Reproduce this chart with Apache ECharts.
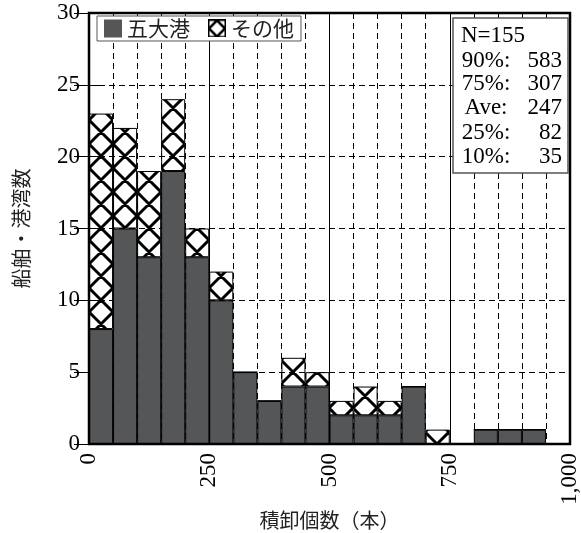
<!DOCTYPE html>
<html>
<head>
<meta charset="utf-8">
<script src="https://cdn.jsdelivr.net/npm/echarts/dist/echarts.min.js"></script>
<style>
  html, body { margin: 0; padding: 0; background: #fff; }
  #chart { width: 581px; height: 533px; }
</style>
</head>
<body>
<div id="chart"></div>
<script>
// Histogram bins: lower edge of each 50-box class
const binStarts = [0, 50, 100, 150, 200, 250, 300, 350, 400, 450,
                   500, 550, 600, 650, 700, 750, 800, 850, 900, 950];
// Counts per bin
const majorPorts = [8, 15, 13, 19, 13, 10, 5, 3, 4, 4, 2, 2, 2, 4, 0, 0, 1, 1, 1, 0];
const otherPorts = [15, 7, 6, 5, 2, 2, 0, 0, 2, 1, 1, 2, 1, 0, 1, 0, 0, 0, 0, 0];
const seriesNames = ['五大港', 'その他'];
// Axis ranges
const xRange = [0, 1000];
const xStep = 250;
const yRange = [0, 30];
const yStep = 5;
// Summary statistics
const sampleCount = 155;
const statLabels = ['90%:', '75%:', 'Ave:', '25%:', '10%:'];
const statValues = [583, 307, 247, 82, 35];

const SERIF = '"Liberation Serif", "DejaVu Serif", serif';
const JP = '"Noto Sans CJK JP", "Noto Sans", sans-serif';

// Cross-hatch tile (diagonal lattice, 24px period)
function hatchTile() {
  const c = document.createElement('canvas');
  c.width = 24; c.height = 24;
  const g = c.getContext('2d');
  g.strokeStyle = '#000';
  g.lineWidth = 3;
  const ox = 17;
  g.beginPath();
  for (let k = -3; k <= 3; k++) {
    const b = ox + 24 * k;
    g.moveTo(b - 48, -48); g.lineTo(b + 48, 48);
    g.moveTo(b + 48, -48); g.lineTo(b - 48, 48);
  }
  g.stroke();
  return c;
}

// Legend swatch: boxed diamond
function diamondIcon() {
  const s = 36;
  const c = document.createElement('canvas');
  c.width = s; c.height = s;
  const g = c.getContext('2d');
  g.fillStyle = '#fff';
  g.fillRect(0, 0, s, s);
  g.strokeStyle = '#000';
  g.lineWidth = 5;
  g.beginPath();
  g.moveTo(s / 2, 2); g.lineTo(s - 2, s / 2); g.lineTo(s / 2, s - 2); g.lineTo(2, s / 2); g.closePath();
  g.stroke();
  g.lineWidth = 3;
  g.strokeRect(1.5, 1.5, s - 3, s - 3);
  return c.toDataURL();
}

const binLabels = binStarts.map(v => v + '-' + (v + 50));
const hatch = { image: hatchTile(), repeat: 'repeat' };
const DARK = '#555658';

const gridBox = { left: 89, top: 13, right: 11, bottom: 89 };
const plotW = 581 - gridBox.left - gridBox.right;
const plotH = 533 - gridBox.top - gridBox.bottom;

// Stats panel rows
const panel = { x: 453, y: 18, w: 115, h: 155 };
const rowYs = [36, 61, 84, 108, 133, 157];
const statFont = '23px ' + SERIF;
const statGraphics = [
  { type: 'rect', shape: { x: panel.x, y: panel.y, width: panel.w, height: panel.h },
    style: { fill: '#fff', stroke: '#555', lineWidth: 1.5 }, z: 20 },
  { type: 'text', x: 461, y: rowYs[0], z: 21,
    style: { text: 'N=' + sampleCount, font: statFont, fill: '#000', align: 'left', verticalAlign: 'middle' } }
];
statLabels.forEach((lab, i) => {
  const y = rowYs[i + 1];
  statGraphics.push({ type: 'text', x: 486, y: y, z: 21,
    style: { text: lab, font: statFont, fill: '#000', align: 'center', verticalAlign: 'middle' } });
  statGraphics.push({ type: 'text', x: 562, y: y, z: 21,
    style: { text: String(statValues[i]), font: statFont, fill: '#000', align: 'right', verticalAlign: 'middle' } });
});

const chart = echarts.init(document.getElementById('chart'), null, { renderer: 'canvas' });
chart.setOption({
  animation: false,
  backgroundColor: '#fff',
  grid: Object.assign({ containLabel: false, outerBoundsMode: 'none' }, gridBox),
  legend: {
    left: 97, top: 16,
    orient: 'horizontal',
    padding: [2, 7, 2, 7],
    itemGap: 18,
    itemWidth: 18, itemHeight: 18,
    borderColor: '#555', borderWidth: 1, borderRadius: 0,
    backgroundColor: '#fff',
    textStyle: { fontFamily: JP, fontSize: 21, color: '#222' },
    data: [
      { name: seriesNames[0], icon: 'rect', itemStyle: { color: DARK, borderWidth: 0 } },
      { name: seriesNames[1], icon: 'image://' + diamondIcon(), itemStyle: { borderWidth: 0 } }
    ],
    z: 20
  },
  xAxis: [
    { type: 'category', data: binLabels, show: false, gridIndex: 0 },
    {
      type: 'value', position: 'bottom', gridIndex: 0,
      min: xRange[0], max: xRange[1], interval: xStep,
      axisLine: { show: false },
      axisTick: { show: false },
      minorTick: { show: false, splitNumber: 5 },
      axisLabel: {
        rotate: 90, margin: 9, fontFamily: SERIF, fontSize: 23, color: '#000',
        formatter: v => v.toLocaleString('en-US')
      },
      splitLine: { show: true, lineStyle: { color: '#000', width: 1, type: 'solid' } },
      minorSplitLine: { show: true, lineStyle: { color: '#000', width: 1, type: [6, 4] } },
      name: '積卸個数（本）', nameLocation: 'middle', nameGap: 66, nameMoveOverlap: false,
      nameTextStyle: { fontFamily: JP, fontSize: 20, color: '#222' }
    },
    {
      type: 'value', position: 'top', gridIndex: 0,
      min: xRange[0], max: xRange[1], interval: 50,
      axisLine: { show: false },
      axisTick: { show: true, inside: true, length: 5, lineStyle: { color: '#000', width: 1 } },
      axisLabel: { show: false },
      splitLine: { show: false }
    }
  ],
  yAxis: [
    {
      type: 'value', position: 'left', min: yRange[0], max: yRange[1], interval: yStep,
      axisLine: { show: false },
      axisTick: { show: true, inside: true, length: 15, lineStyle: { color: '#000', width: 1 } },
      axisLabel: { margin: 9, fontFamily: SERIF, fontSize: 23, color: '#000' },
      splitLine: { show: true, lineStyle: { color: '#000', width: 1, type: [6, 4] } },
      name: '船舶・港湾数', nameLocation: 'middle', nameGap: 58, nameMoveOverlap: false,
      nameTextStyle: { fontFamily: JP, fontSize: 20, color: '#222' }
    },
    {
      type: 'value', position: 'right', min: yRange[0], max: yRange[1], interval: yStep,
      axisLine: { show: false },
      axisTick: { show: true, inside: true, length: 15, lineStyle: { color: '#000', width: 1 } },
      axisLabel: { show: false },
      splitLine: { show: false }
    }
  ],
  series: [
    {
      name: seriesNames[0], type: 'bar', stack: 'count', xAxisIndex: 0, yAxisIndex: 0,
      data: majorPorts, barCategoryGap: '0%', barGap: '0%',
      itemStyle: { color: DARK, borderColor: '#000', borderWidth: 1 }
    },
    {
      name: seriesNames[1], type: 'bar', stack: 'count', xAxisIndex: 0, yAxisIndex: 0,
      data: otherPorts, barCategoryGap: '0%', barGap: '0%',
      itemStyle: { color: hatch, borderColor: '#000', borderWidth: 1 }
    }
  ],
  graphic: [
    { type: 'rect', shape: { x: gridBox.left, y: gridBox.top, width: plotW, height: plotH },
      style: { fill: 'none', stroke: '#000', lineWidth: 2.5 }, z: 15, silent: true }
  ].concat(statGraphics)
});
</script>
</body>
</html>
